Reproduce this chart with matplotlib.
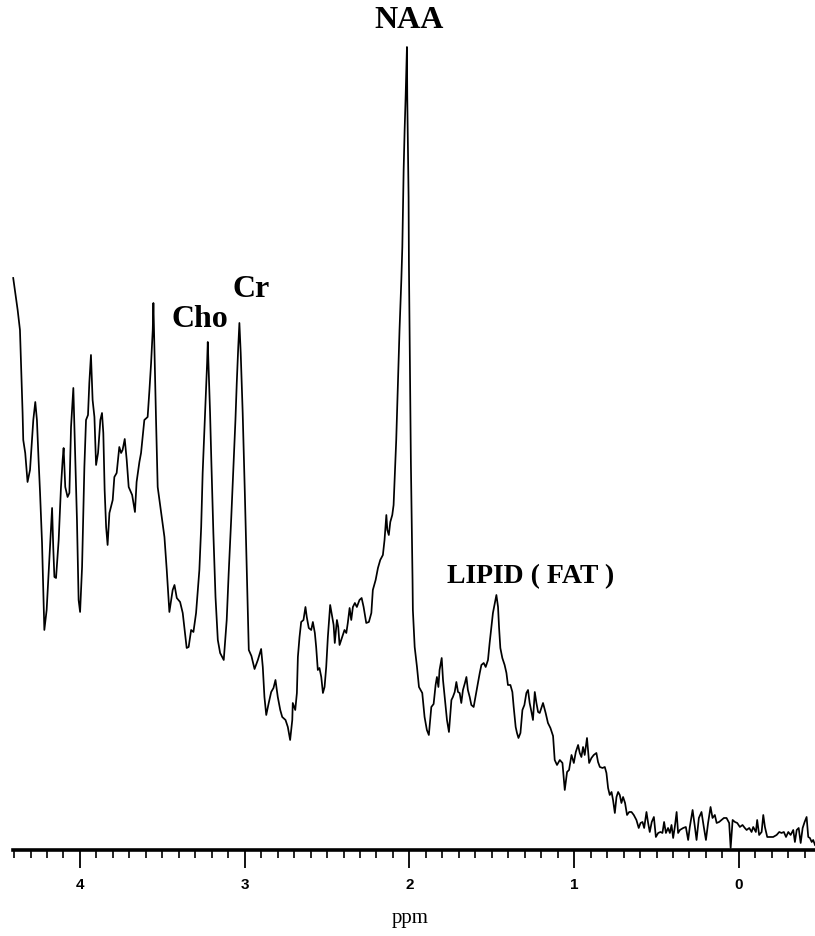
import numpy as np
import matplotlib
matplotlib.use("Agg")
import matplotlib.pyplot as plt
from matplotlib.ticker import MultipleLocator, FixedLocator

# 1H MR spectrum, chemical shift (ppm) vs signal (a.u.)
# region 1: 4.4 - 2.87 ppm (myo-inositol / Cho / Cr)
ppm_left = [4.405, 4.378, 4.364, 4.352, 4.348, 4.344, 4.332, 4.318, 4.303, 4.291,
            4.283, 4.271, 4.261, 4.251, 4.242, 4.230, 4.216, 4.202, 4.186, 4.169,
            4.162, 4.155, 4.145, 4.129, 4.115, 4.105, 4.099, 4.089, 4.075, 4.064,
            4.054, 4.040, 4.028, 4.018, 4.008, 3.999, 3.987, 3.973, 3.963, 3.951,
            3.943, 3.933, 3.923, 3.912, 3.902, 3.890, 3.876, 3.866, 3.858, 3.850,
            3.841, 3.832, 3.821, 3.801, 3.791, 3.777, 3.761, 3.750, 3.741, 3.728,
            3.716, 3.704, 3.683, 3.666, 3.656, 3.639,
            3.629, 3.609, 3.589, 3.578, 3.568, 3.558, 3.554, 3.548, 3.538, 3.528,
            3.507, 3.487, 3.473, 3.457, 3.437, 3.426, 3.412, 3.392, 3.376, 3.352,
            3.340, 3.325, 3.311, 3.295, 3.275, 3.264, 3.255, 3.242, 3.234, 3.228,
            3.224, 3.218, 3.210, 3.202, 3.190, 3.177, 3.163, 3.149, 3.127, 3.109,
            3.097, 3.082, 3.068, 3.056, 3.048, 3.039, 3.032, 3.024, 3.012, 2.999,
            2.987, 2.975, 2.959, 2.940, 2.920, 2.900, 2.890, 2.880, 2.869]
sig_left = [572, 540, 520, 457, 437, 410, 397, 368, 380, 410,
            430, 448, 430, 390, 357, 307, 220, 240, 290, 342,
            303, 273, 272, 310, 363, 390, 402, 363, 353, 357,
            423, 462, 390, 330, 250, 238, 283, 383, 430, 435,
            467, 495, 450, 433, 385, 397, 430, 437, 417, 360,
            323, 305, 337, 350, 373, 377, 403, 397, 400, 411,
            390, 363, 355, 338, 368, 388,
            397, 430, 433, 460, 487, 520, 547, 503, 430, 363,
            337, 313, 280, 238, 260, 265, 252, 248, 237, 202,
            203, 220, 218, 237, 280, 323, 377, 430, 463, 487,
            508, 477, 437, 387, 317, 253, 210, 197, 190, 230,
            277, 330, 383, 430, 467, 503, 527, 497, 437, 357,
            277, 200, 194, 181, 190, 201, 183, 153, 135]

# region 2: 2.85 - 1.97 ppm (NAA)
ppm_mid = [2.854, 2.839, 2.825, 2.813, 2.799, 2.784, 2.772, 2.752, 2.738, 2.724,
           2.711, 2.708, 2.693, 2.683, 2.677, 2.667, 2.657, 2.643, 2.631, 2.623,
           2.611, 2.596, 2.586, 2.574, 2.566, 2.556, 2.546, 2.535, 2.525, 2.515,
           2.505, 2.495, 2.481, 2.468, 2.460, 2.453, 2.440, 2.432, 2.424, 2.408,
           2.394, 2.383, 2.374, 2.363, 2.353, 2.343, 2.331, 2.319, 2.303, 2.290,
           2.278, 2.262, 2.246, 2.231, 2.222, 2.205, 2.191, 2.177, 2.161, 2.151,
           2.140, 2.134, 2.125, 2.116, 2.104, 2.096, 2.090, 2.080, 2.070, 2.060,
           2.049, 2.043, 2.039, 2.035, 2.029, 2.023, 2.015, 2.013, 2.009, 2.005,
           2.003, 1.999, 1.995, 1.991, 1.985, 1.981, 1.979, 1.968]
sig_mid = [147, 158, 162, 170, 153, 140, 133, 130, 123, 110,
           130, 147, 140, 157, 193, 213, 228, 230, 243, 233,
           222, 220, 228, 217, 203, 180, 182, 173, 157, 163,
           183, 213, 245, 233, 225, 207, 230, 223, 205, 213,
           220, 217, 227, 242, 230, 243, 247, 243, 250, 252,
           243, 227, 228, 237, 260, 270, 282, 290, 295, 310,
           335, 320, 315, 328, 335, 345, 370, 410, 465, 520,
           570, 603, 640, 680, 720, 753, 803, 753, 703, 653,
           587, 520, 453, 387, 320, 270, 240, 203]

# region 3: 1.95 - -0.46 ppm (lipid and baseline)
ppm_right = [1.954, 1.942, 1.922, 1.908, 1.894, 1.882, 1.867, 1.853, 1.841, 1.833,
             1.824, 1.817, 1.804, 1.796, 1.786, 1.772, 1.760, 1.745, 1.736, 1.725,
             1.715, 1.705, 1.695, 1.685, 1.675, 1.663, 1.654, 1.645, 1.634, 1.624,
             1.610, 1.594, 1.584, 1.573, 1.563, 1.549, 1.537, 1.523, 1.513, 1.502,
             1.493, 1.481, 1.472, 1.462, 1.456, 1.448, 1.436, 1.422, 1.411, 1.402,
             1.387, 1.375, 1.367, 1.355, 1.347, 1.338, 1.326, 1.314, 1.302, 1.290,
             1.280, 1.270, 1.259, 1.250, 1.239, 1.229, 1.219, 1.209, 1.189, 1.173,
             1.159, 1.144, 1.128, 1.118, 1.104, 1.087, 1.071, 1.057, 1.043, 1.031,
             1.016, 1.002, 0.990, 0.976, 0.966, 0.956, 0.946, 0.936, 0.922, 0.909,
             0.895, 0.881, 0.865, 0.855, 0.844, 0.828, 0.814, 0.804, 0.794, 0.784,
             0.773, 0.764, 0.753, 0.743, 0.733, 0.723, 0.713, 0.703, 0.691, 0.679,
             0.666, 0.652, 0.638, 0.622, 0.608, 0.597, 0.585, 0.575, 0.561, 0.551,
             0.541, 0.529, 0.516, 0.504, 0.490, 0.476, 0.464, 0.454, 0.443, 0.430,
             0.419, 0.409, 0.399, 0.389, 0.378, 0.369, 0.358, 0.338, 0.322, 0.308,
             0.298, 0.281, 0.267, 0.257, 0.243, 0.227, 0.213, 0.200, 0.187, 0.172,
             0.160, 0.146, 0.135, 0.120, 0.105, 0.091, 0.075, 0.059, 0.050, 0.038,
             0.024, 0.010, -0.006, -0.022, -0.036, -0.047, -0.063, -0.077, -0.087, -0.103,
             -0.111, -0.123, -0.138, -0.148, -0.158, -0.172, -0.188, -0.208, -0.229, -0.245,
             -0.259, -0.273, -0.286, -0.300, -0.314, -0.330, -0.340, -0.351, -0.363, -0.375,
             -0.387, -0.399, -0.411, -0.421, -0.431, -0.442, -0.451, -0.462]
sig_right = [183, 163, 157, 133, 120, 115, 143, 146, 165, 173,
             163, 180, 192, 170, 153, 130, 118, 150, 153, 158,
             168, 158, 157, 147, 160, 167, 173, 160, 153, 145,
             143, 158, 167, 177, 185, 187, 183, 190, 207, 223,
             237, 247, 255, 243, 223, 202, 192, 185, 177, 165,
             165, 158, 143, 123, 117, 112, 117, 140, 145, 157,
             160, 147, 138, 130, 158, 147, 138, 137, 147, 137,
             127, 122, 114, 90, 85, 90, 87, 60, 78, 80,
             95, 87, 98, 105, 97, 93, 103, 95, 112, 87,
             92, 95, 97, 88, 83, 82, 83, 77, 62, 55,
             58, 50, 37, 53, 58, 55, 47, 53, 47, 35,
             38, 38, 35, 30, 22, 27, 28, 22, 38, 27,
             18, 28, 33, 13, 17, 18, 17, 28, 17, 22,
             17, 25, 12, 23, 38, 17, 20, 22, 23, 10,
             23, 40, 23, 10, 32, 38, 23, 10, 27, 43,
             32, 35, 27, 28, 30, 32, 32, 27, 2, 30,
             28, 27, 23, 25, 22, 20, 22, 18, 23, 18,
             30, 15, 18, 35, 23, 13, 13, 13, 15, 18,
             17, 18, 13, 18, 15, 20, 8, 20, 22, 7,
             22, 28, 33, 13, 12, 8, 10, 5]

major_ticks = [4, 3, 2, 1, 0]
peak_labels = ['NAA', 'Cho', 'Cr', 'LIPID ( FAT )']

ppm = np.array(ppm_left + ppm_mid + ppm_right)
sig = np.array(sig_left + sig_mid + sig_right)

fig = plt.figure(figsize=(8.15, 9.36), dpi=100)
ax = fig.add_axes([0.016, 0.0919, 0.984, 0.9081])
ax.plot(ppm, sig, color='black', lw=1.25, clip_on=False)

ax.set_xlim(4.406, -0.462)
ax.set_ylim(0, 850)

for s in ['top', 'right', 'left']:
    ax.spines[s].set_visible(False)
ax.spines['bottom'].set_linewidth(2.6)
ax.set_yticks([])

ax.xaxis.set_major_locator(FixedLocator(major_ticks))
ax.xaxis.set_minor_locator(MultipleLocator(0.1))
ax.set_xticklabels([str(t) for t in major_ticks])
ax.tick_params(axis='x', which='major', direction='out', length=13, width=1.3,
               pad=7, labelsize=11)
ax.tick_params(axis='x', which='minor', direction='out', length=6, width=1.2)
for lab in ax.get_xticklabels():
    lab.set_fontfamily('Liberation Sans')
    lab.set_fontweight('bold')

fig.text(410 / 815, 1 - 918 / 936, 'ppm', ha='center', va='center',
         fontsize=15, family='Liberation Serif')

lab_font = dict(family='Liberation Serif', fontweight='bold', color='black')
ax.text(2.0, 829, peak_labels[0], ha='center', va='center', fontsize=23, **lab_font)
ax.text(3.27, 530, peak_labels[1], ha='center', va='center', fontsize=23, **lab_font)
ax.text(2.96, 560, peak_labels[2], ha='center', va='center', fontsize=23, **lab_font)
ax.text(1.774, 273, peak_labels[3], ha='left', va='center', fontsize=20, **lab_font)

fig.savefig('out.png', dpi=100)
